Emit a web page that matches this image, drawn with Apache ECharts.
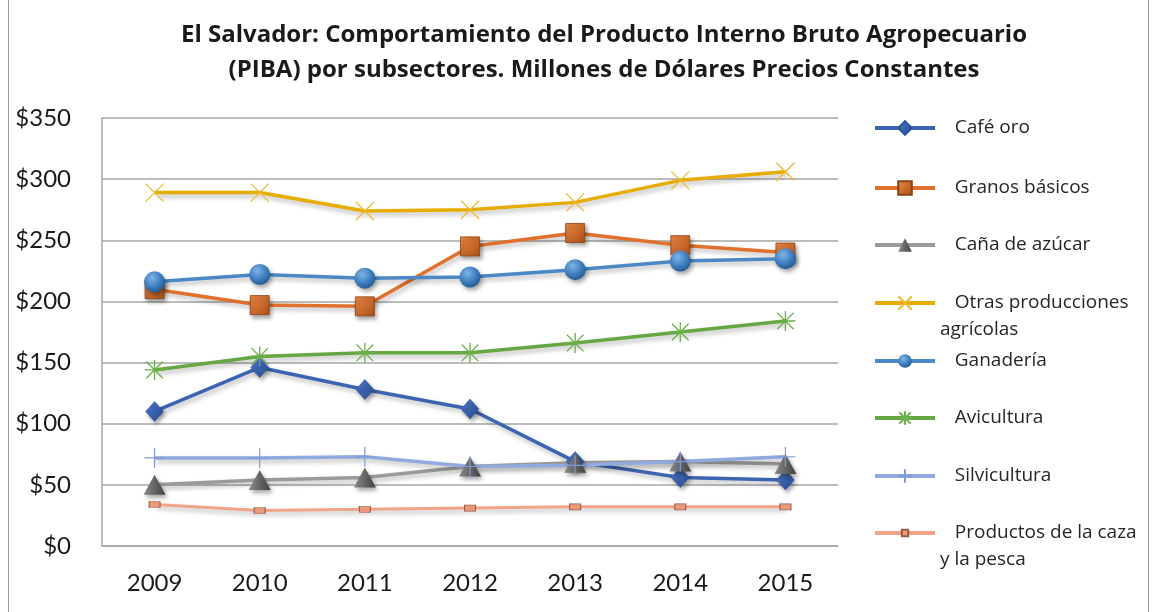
<!DOCTYPE html>
<html>
<head>
<meta charset="utf-8">
<script src="https://cdn.jsdelivr.net/npm/echarts@6/dist/echarts.min.js"></script>
<style>
  html, body { margin: 0; padding: 0; background: #fff; }
  #chart { width: 1154px; height: 612px; position: relative; }
  #frame { position: absolute; left: 8px; top: -2px; width: 1141px; height: 616px; border: 1px solid #9a9a9a; box-sizing: border-box; pointer-events: none; }
</style>
</head>
<body>
<div id="chart"></div>
<div id="frame"></div>
<script>
// años
const years = ['2009', '2010', '2011', '2012', '2013', '2014', '2015'];

// valores por subsector (millones de US$, precios constantes)
const cafeOro = [110, 146, 128, 112, 69, 56, 54];
const granosBasicos = [210, 197, 196, 245, 256, 246, 240];
const canaAzucar = [50, 54, 56, 65, 68, 69, 67];
const otrasAgricolas = [289, 289, 274, 275, 281, 299, 306];
const ganaderia = [216, 222, 219, 220, 226, 233, 235];
const avicultura = [144, 155, 158, 158, 166, 175, 184];
const silvicultura = [72, 72, 73, 65, 66, 69, 73];
const cazaPesca = [34, 29, 30, 31, 32, 32, 32];

const yTicks = [0, 50, 100, 150, 200, 250, 300, 350];

const chart = echarts.init(document.getElementById('chart'));

const FONT = 'Lato, "Noto Sans", sans-serif';
const FONT2 = '"Open Sans", "Noto Sans", sans-serif';
const shadow = { shadowColor: 'rgba(0,0,0,0.28)', shadowBlur: 5, shadowOffsetX: 2, shadowOffsetY: 3 };
const mShadow = { shadowColor: 'rgba(0,0,0,0.35)', shadowBlur: 4, shadowOffsetX: 2, shadowOffsetY: 3 };

// marcadores
const xPath = 'path://M0,0L10,10M10,0L0,10';
const starPath = 'path://M0,0L10,10M10,0L0,10M5,-1L5,11M-1,5L11,5';
const plusPath = 'path://M5,0L5,10M0,5L10,5';

function mkSeries(name, data, color, symbol, size, extra) {
  return Object.assign({
    name: name,
    type: 'line',
    data: data,
    symbol: symbol,
    symbolSize: size,
    showAllSymbol: true,
    lineStyle: Object.assign({ color: color, width: 3.5 }, shadow),
    itemStyle: { color: color },
    z: 3
  }, extra || {});
}

const series = [
  mkSeries('Café oro', cafeOro, '#3c64b2', 'diamond', [18, 20], {
    itemStyle: Object.assign({ color: new echarts.graphic.LinearGradient(0, 0, 1, 1, [{ offset: 0, color: '#4f7bcc' }, { offset: 1, color: '#24478c' }]), borderColor: '#2f5398', borderWidth: 0.5 }, mShadow)
  }),
  mkSeries('Granos básicos', granosBasicos, '#e0702c', 'rect', 19, {
    itemStyle: Object.assign({ color: new echarts.graphic.LinearGradient(0, 0, 1, 1, [{ offset: 0, color: '#f08a45' }, { offset: 1, color: '#a94f17' }]), borderColor: '#8a4212', borderWidth: 0.8 }, mShadow)
  }),
  mkSeries('Caña de azúcar', canaAzucar, '#9a9a9a', 'triangle', [22, 20], {
    itemStyle: Object.assign({ color: new echarts.graphic.LinearGradient(0, 0, 1, 0, [{ offset: 0, color: '#8a8a8a' }, { offset: 1, color: '#404040' }]) }, mShadow)
  }),
  mkSeries('Otras producciones\nagrícolas', otrasAgricolas, '#e6ad00', xPath, 18, {
    itemStyle: { color: 'none', borderColor: '#ebbb33', borderWidth: 1.3 }
  }),
  mkSeries('Ganadería', ganaderia, '#4a89c6', 'circle', 21, {
    itemStyle: Object.assign({ color: new echarts.graphic.RadialGradient(0.38, 0.32, 0.7, [{ offset: 0, color: '#7fb4e6' }, { offset: 0.6, color: '#3f7fbf' }, { offset: 1, color: '#245c94' }]) }, mShadow)
  }),
  mkSeries('Avicultura', avicultura, '#65a742', starPath, 20, {
    itemStyle: { color: 'none', borderColor: '#6bb04a', borderWidth: 1.3 }
  }),
  mkSeries('Silvicultura', silvicultura, '#92a9de', plusPath, 20, {
    itemStyle: { color: 'none', borderColor: '#7f9ad8', borderWidth: 1.2 }
  }),
  mkSeries('Productos de la caza\ny la pesca', cazaPesca, '#f2a488', 'rect', [11, 6], {
    lineStyle: Object.assign({ color: '#f2a488', width: 3 }, shadow),
    itemStyle: { color: '#e99a7d', borderColor: '#9c5a44', borderWidth: 0.8 }
  })
];

// una leyenda por elemento para mantener el espaciado fijo
const LH = 27;
const legendCenter = [128, 188, 245, 303, 361, 418, 476, 533];
const legends = series.map((s, i) => {
  const twoLines = s.name.indexOf('\n') >= 0;
  return {
    data: [s.name],
    orient: 'vertical',
    left: 868,
    top: legendCenter[i] - 5 - (twoLines ? LH * 1.5 : LH / 2),
    itemWidth: 60,
    itemHeight: i === 7 ? 8 : 17,
    selectedMode: false,
    lineStyle: { width: 4 },
    formatter: name => twoLines ? ' \n   ' + name : '   ' + name,
    textStyle: { fontFamily: FONT2, fontSize: 19, color: '#262626', lineHeight: LH }
  };
});

const option = {
  animation: false,
  title: {
    text: 'El Salvador: Comportamiento del Producto Interno Bruto Agropecuario\n(PIBA) por subsectores. Millones de Dólares Precios Constantes',
    left: 599,
    textAlign: 'center',
    top: 13,
    textStyle: { fontFamily: FONT2, fontSize: 24, fontWeight: 'bold', color: '#1a1a1a', lineHeight: 35 }
  },
  legend: legends,
  grid: { left: 102, right: 316, top: 118, bottom: 66 },
  xAxis: {
    type: 'category',
    data: years,
    boundaryGap: true,
    axisLine: { show: true, lineStyle: { color: '#a6a6a6', width: 1.5 } },
    axisTick: { show: false },
    axisLabel: { fontFamily: FONT, fontSize: 24, color: '#1a1a1a', margin: 25 }
  },
  yAxis: {
    type: 'value',
    min: yTicks[0],
    max: yTicks[yTicks.length - 1],
    interval: 50,
    axisLine: { show: true, lineStyle: { color: '#a6a6a6', width: 1.5 } },
    axisTick: { show: false },
    splitLine: { lineStyle: { color: '#a6a6a6', width: 1.5 } },
    axisLabel: { fontFamily: FONT, fontSize: 24, color: '#1a1a1a', margin: 31, formatter: v => '$' + v }
  },
  series: series
};

chart.setOption(option);
</script>
</body>
</html>
